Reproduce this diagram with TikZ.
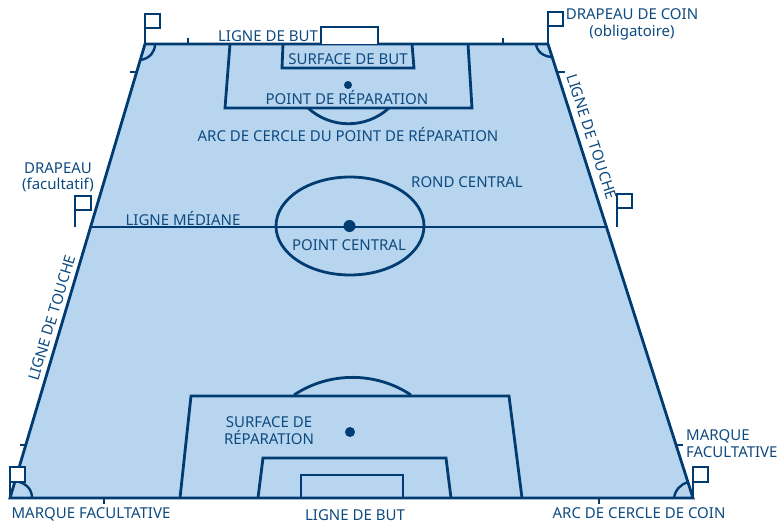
\documentclass[tikz,border=0pt]{standalone}
\usepackage{fontspec}
\setmainfont{Noto Sans}
\usepackage{xcolor}
\definecolor{pitchline}{HTML}{003B71}
\definecolor{pitchfill}{HTML}{B7D5EF}
\definecolor{pitchtext}{HTML}{0E4A7F}
\begin{document}
\begin{tikzpicture}[
    x=1pt, y=-1pt,
    mark line/.style={draw=pitchline, line width=2.8pt, line join=miter},
    thin line/.style={draw=pitchline, line width=2.4pt},
    flagbox/.style={draw=pitchline, line width=2.8pt, fill=white},
    spot/.style={circle, fill=pitchline, inner sep=0pt},
    lbl/.style={text=pitchtext, inner sep=0pt, font=\fontsize{15}{16.5}\selectfont, align=center}
]
    \useasboundingbox (0,0) rectangle (782,523);

    \coordinate (tl) at (145,44);
    \coordinate (tr) at (548,44);
    \coordinate (bl) at (10,498);
    \coordinate (br) at (693,498);
    \coordinate (midl) at (92,227);
    \coordinate (midr) at (608,227);

    \fill[pitchfill] (tl) -- (tr) -- (br) -- (bl) -- cycle;
    \draw[mark line] (bl) -- (tl) -- (tr) -- (br) -- cycle;
    \draw[thin line] (midl) -- (midr);

    \draw[flagbox] (321,44) -- (321,27) -- (378,27) -- (378,44);
    \draw[mark line] (230,44) -- (225,108) -- (472,108) -- (468,44);
    \draw[mark line] (283,44) -- (282,68) -- (414,68) -- (412,44);
    \draw[mark line] (308,108) .. controls (331,129) and (366,129) .. (389,108);
    \draw[mark line] (180,498) -- (191,396) -- (509,396) -- (522,498);
    \draw[mark line] (258,498) -- (263,458) -- (446,458) -- (451,498);
    \draw[mark line] (301,498) -- (301,475) -- (403,475) -- (403,498);
    \draw[mark line] (294,395) .. controls (329,371.5) and (376,371.5) .. (411,395);

    \draw[mark line] (350,226) ellipse [x radius=74, y radius=49];
    \node[spot, minimum size=12pt] (centre) at (349.5,226) {};
    \node[spot, minimum size=8pt] (topspot) at (348,85) {};
    \node[spot, minimum size=10pt] (lowspot) at (350,432) {};

    \draw[thin line] (155,44) .. controls (155,52) and (150,58) .. (141,60);
    \draw[thin line] (536,44) .. controls (537,52) and (544,57) .. (553,57);
    \draw[thin line] (32,498) .. controls (32,488) and (25,483) .. (16,481);
    \draw[thin line] (674,498) .. controls (675,490) and (681,484) .. (688,482);

    \draw[thin line] (188,44) -- (188,38);
    \draw[thin line] (503,44) -- (503,38);
    \draw[thin line] (137,72) -- (130,72);
    \draw[thin line] (557,72) -- (565,72);
    \draw[thin line] (27,445) -- (20,445);
    \draw[thin line] (676,445) -- (683,445);
    \draw[thin line] (104,498) -- (104,504);
    \draw[thin line] (599,498) -- (599,504);

    \draw[flagbox] (tl) -- (145,14) -- (160,14) -- (160,28) -- (145,28);
    \draw[flagbox] (tr) -- (548,12) -- (563,12) -- (563,26) -- (548,26);
    \draw[flagbox] (bl) -- (10,467) -- (25,467) -- (25,482) -- (10,482);
    \draw[flagbox] (br) -- (693,467) -- (708,467) -- (708,482) -- (693,482);
    \draw[thin line] (75,227) -- (75,196) -- (91,196) -- (91,210) -- (75,210);
    \draw[thin line] (617,227) -- (617,194) -- (632,194) -- (632,208) -- (617,208);

    \node[lbl] (goaltop) at (268,36) {LIGNE DE BUT};
    \node[lbl] (goalarea) at (348,59) {SURFACE DE BUT};
    \node[lbl] (penspot) at (347,97.5) {POINT DE RÉPARATION};
    \node[lbl] (penarc) at (348,134) {ARC DE CERCLE DU POINT DE RÉPARATION};
    \node[lbl] (cornerflag) at (632,24.5) {DRAPEAU DE COIN\\(obligatoire)};
    \node[lbl, rotate=-72] (touchr) at (592,137) {LIGNE DE TOUCHE};
    \node[lbl, rotate=73] (touchl) at (52,318) {LIGNE DE TOUCHE};
    \node[lbl] (optflag) at (58,177.5) {DRAPEAU\\(facultatif)};
    \node[lbl] (midline) at (183,218) {LIGNE MÉDIANE};
    \node[lbl] (circle) at (467,182) {ROND CENTRAL};
    \node[lbl] (centrept) at (349,245) {POINT CENTRAL};
    \node[lbl] (penarea) at (269,430.5) {SURFACE DE\\RÉPARATION};
    \node[lbl] (markl) at (91,514) {MARQUE FACULTATIVE};
    \node[lbl] (goalbot) at (355,515) {LIGNE DE BUT};
    \node[lbl] (cornerarc) at (639,513) {ARC DE CERCLE DE COIN};
    \node[lbl, align=left, anchor=west] (markr) at (686,443.5) {MARQUE\\FACULTATIVE};
\end{tikzpicture}
\end{document}
